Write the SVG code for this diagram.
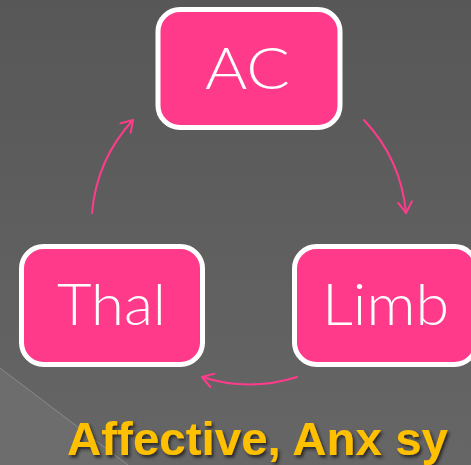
<svg xmlns="http://www.w3.org/2000/svg" width="471" height="465" viewBox="0 0 471 465">
<defs>
<linearGradient id="bg" x1="0" y1="0" x2="0" y2="1">
<stop offset="0" stop-color="#575757"/>
<stop offset="1" stop-color="#666666"/>
</linearGradient>
<filter id="sh" x="-10%" y="-30%" width="120%" height="160%">
<feDropShadow dx="2" dy="2.5" stdDeviation="1.5" flood-color="#202020" flood-opacity="0.85"/>
</filter>
<marker id="ah" viewBox="-12 -8 14 16" refX="0" refY="0" markerWidth="14" markerHeight="16" markerUnits="userSpaceOnUse" orient="auto">
<path d="M-11,-7 L0,0 L-11,7" fill="none" stroke="#FF3B8B" stroke-width="2" stroke-linecap="round" stroke-linejoin="round"/>
</marker>
<style>
.box{fill:#FF3A8A;stroke:#FFFFFF;stroke-width:5}
.lbl{font-family:Lato,"Noto Sans","Liberation Sans",sans-serif;font-weight:300;font-size:58px;fill:#FFFFFF;text-anchor:middle}
.arr{fill:none;stroke:#FF3B8B;stroke-width:2;stroke-linecap:round;marker-end:url(#ah)}
</style>
</defs>
<rect width="471" height="465" fill="url(#bg)"/>
<polygon points="0,368 128,465 0,465" fill="#6d6d6d"/>
<line x1="0" y1="368" x2="128" y2="465" stroke="#8a8a8a" stroke-width="1"/>
<g id="connectors">
<path class="arr" d="M92,213 A157,157 0 0 1 133,120"/>
<path class="arr" d="M364,120 A157,157 0 0 1 406,213"/>
<path class="arr" d="M297,377 A157,157 0 0 1 202,377"/>
</g>
<g id="node-ac">
<rect class="box" x="158" y="9.5" width="182" height="118" rx="22"/>
<text class="lbl" x="247.5" y="89" textLength="85" lengthAdjust="spacingAndGlyphs">AC</text>
</g>
<g id="node-thal">
<rect class="box" x="21.5" y="246.5" width="181" height="118" rx="22"/>
<text class="lbl" x="111.5" y="325" textLength="109" lengthAdjust="spacingAndGlyphs">Thal</text>
</g>
<g id="node-limb">
<rect class="box" x="294.5" y="246.5" width="182" height="118" rx="22"/>
<text class="lbl" x="385.5" y="325" textLength="127" lengthAdjust="spacingAndGlyphs">Limb</text>
</g>
<g id="caption">
<text x="67" y="455" font-family="'Liberation Sans',Arial,sans-serif" font-weight="bold" font-size="46" fill="#FFC000" filter="url(#sh)" textLength="381" lengthAdjust="spacingAndGlyphs">Affective, Anx sy</text>
</g>
</svg>
